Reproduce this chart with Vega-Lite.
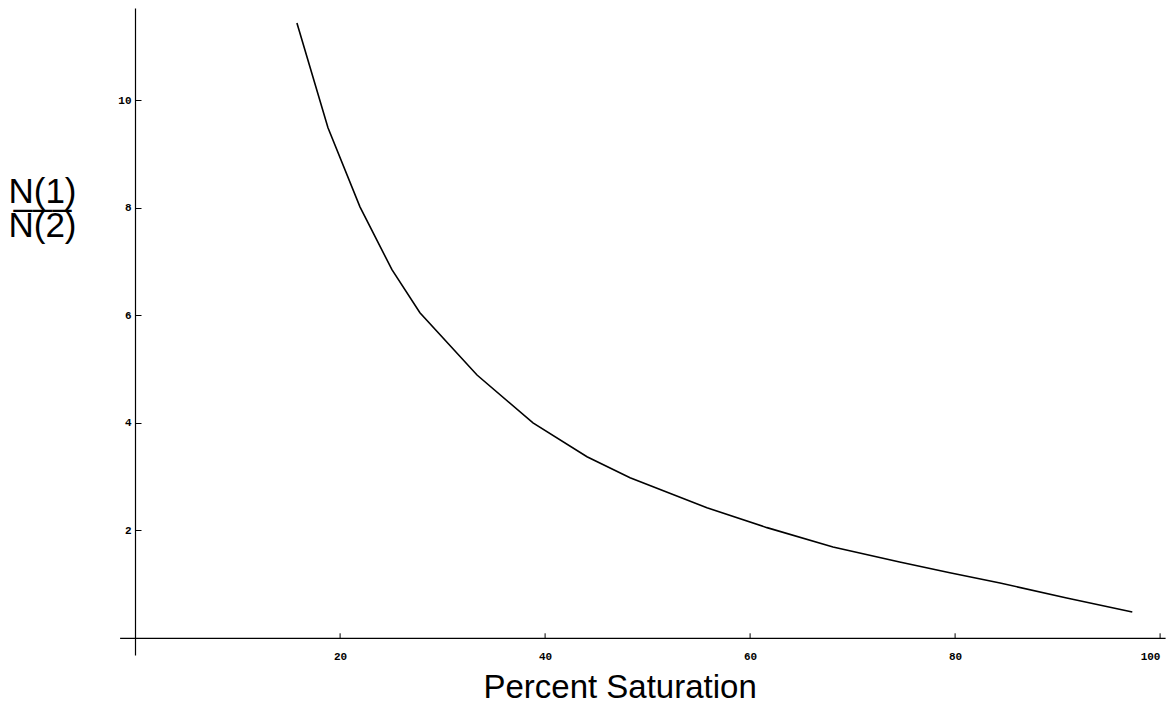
{
  "$schema": "https://vega.github.io/schema/vega-lite/v6.json",
  "width": 1045.5,
  "height": 647,
  "autosize": {"type": "none"},
  "padding": {"left": 119.6, "top": 8, "right": 0.9, "bottom": 49},
  "background": "white",
  "config": {"view": {"stroke": null}},
  "data": {
    "values": [
      {"saturation": 15.8, "ratio": 11.44},
      {"saturation": 18.83, "ratio": 9.49},
      {"saturation": 21.95, "ratio": 8.02},
      {"saturation": 25.07, "ratio": 6.85},
      {"saturation": 27.8, "ratio": 6.05},
      {"saturation": 33.37, "ratio": 4.89},
      {"saturation": 38.83, "ratio": 4.0},
      {"saturation": 44.1, "ratio": 3.37},
      {"saturation": 48.3, "ratio": 2.98},
      {"saturation": 55.8, "ratio": 2.42},
      {"saturation": 61.66, "ratio": 2.05},
      {"saturation": 68.1, "ratio": 1.69},
      {"saturation": 74.6, "ratio": 1.41},
      {"saturation": 79.5, "ratio": 1.21},
      {"saturation": 84.4, "ratio": 1.02},
      {"saturation": 90.9, "ratio": 0.74},
      {"saturation": 97.3, "ratio": 0.48}
    ]
  },
  "mark": {"type": "line", "color": "black", "strokeWidth": 1.6},
  "encoding": {
    "x": {
      "field": "saturation",
      "type": "quantitative",
      "scale": {"domain": [-1.5, 100.5], "nice": false, "zero": false},
      "axis": {
        "values": [20, 40, 60, 80, 100],
        "offset": -17.2,
        "grid": false,
        "domainColor": "black",
        "domainWidth": 1.2,
        "tickColor": "black",
        "tickSize": -5,
        "labelFont": "Liberation Mono",
        "labelFontWeight": "bold",
        "labelFontSize": 11,
        "labelColor": "black",
        "labelPadding": 18,
        "labelAlign": {"condition": {"test": "datum.value == 100", "value": "right"}, "value": "center"},
        "title": "Percent Saturation",
        "titleFont": "Liberation Sans",
        "titleFontSize": 33,
        "titleFontWeight": "normal",
        "titleColor": "black",
        "titleAlign": "center",
        "titleBaseline": "alphabetic",
        "titleX": 500,
        "titleY": 60
      }
    },
    "y": {
      "field": "ratio",
      "type": "quantitative",
      "scale": {"domain": [-0.32, 11.72], "nice": false, "zero": false},
      "axis": {
        "values": [2, 4, 6, 8, 10],
        "offset": -15.4,
        "grid": false,
        "domainColor": "black",
        "domainWidth": 1.2,
        "tickColor": "black",
        "tickSize": -6,
        "labelFont": "Liberation Mono",
        "labelFontWeight": "bold",
        "labelFontSize": 11,
        "labelColor": "black",
        "labelPadding": 10,
        "title": ["N(1)", "–––", "N(2)"],
        "titleFont": "Liberation Sans",
        "titleFontSize": 35,
        "titleFontWeight": "normal",
        "titleColor": "black",
        "titleAngle": 0,
        "titleAlign": "center",
        "titleBaseline": "alphabetic",
        "titleLineHeight": 17,
        "titleX": -93,
        "titleY": 194
      }
    }
  }
}
